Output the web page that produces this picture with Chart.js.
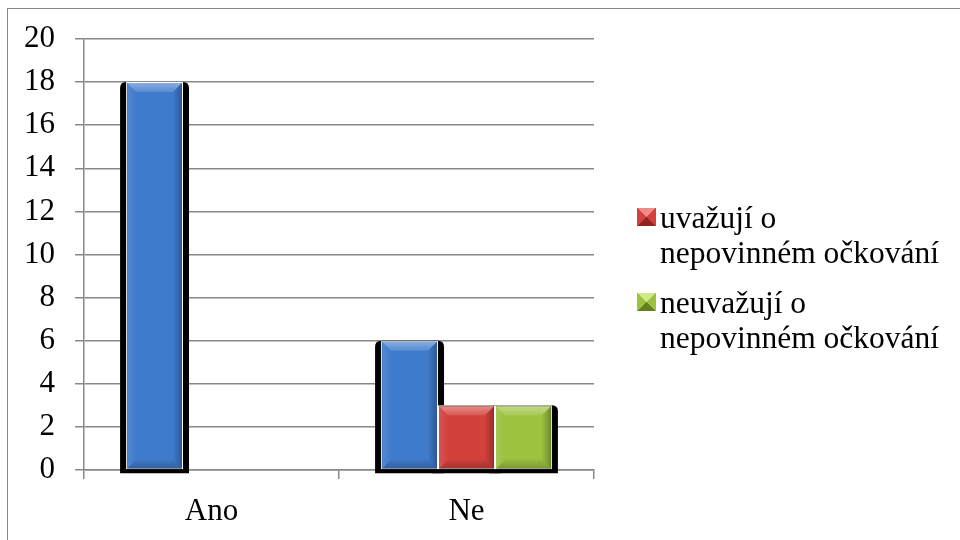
<!DOCTYPE html>
<html>
<head>
<meta charset="utf-8">
<script src="https://cdn.jsdelivr.net/npm/chart.js@4/dist/chart.umd.min.js"></script>
<style>
  html, body { margin: 0; padding: 0; background: #fff; }
  #wrap { position: relative; width: 960px; height: 540px; overflow: hidden; }
  #frame { position: absolute; left: 7px; top: 8px; width: 1000px; height: 600px;
           border-left: 1.5px solid #888; border-top: 1.5px solid #888; box-sizing: border-box; }
  canvas { position: absolute; left: 0; top: 0; }
  .legend-item { position: absolute; left: 660px; font-family: "Liberation Serif", "Times New Roman", serif;
                 font-size: 31.5px; line-height: 35px; color: #000; white-space: nowrap; }
  .swatch { position: absolute; width: 19px; height: 18px; left: 637px; box-sizing: border-box; }
</style>
</head>
<body>
<div id="wrap">
  <div id="frame"></div>
  <canvas id="chart" width="960" height="540"></canvas>
  <div id="legend"></div>
</div>
<script>
// Answers grouped by "Ano" / "Ne"
const categories = ['Ano', 'Ne'];
const seriesNames = ['', 'uvažují o nepovinném očkování', 'neuvažují o nepovinném očkování'];
const legendLines = [[], ['uvažují o', 'nepovinném očkování'], ['neuvažují o', 'nepovinném očkování']];
const totalValues = [18, 6];
const consideringValues = [0, 3];
const notConsideringValues = [0, 3];
const yTicks = [0, 2, 4, 6, 8, 10, 12, 14, 16, 18, 20];

const faceColors = ['#3f7bcc', '#d3413c', '#9cc240'];
const lightColors = ['#7fb0ee', '#ef8a86', '#cfe98a'];
const darkColors = ['#24528f', '#8e2522', '#62801f'];

const serif = '"Liberation Serif", "Times New Roman", serif';

function roundRect(ctx, x, y, w, h, r) {
  ctx.beginPath();
  ctx.moveTo(x + r, y);
  ctx.lineTo(x + w - r, y);
  ctx.quadraticCurveTo(x + w, y, x + w, y + r);
  ctx.lineTo(x + w, y + h);
  ctx.lineTo(x, y + h);
  ctx.lineTo(x, y + r);
  ctx.quadraticCurveTo(x, y, x + r, y);
  ctx.closePath();
}

function poly(ctx, pts, fill) {
  ctx.beginPath();
  ctx.moveTo(pts[0][0], pts[0][1]);
  for (let i = 1; i < pts.length; i++) ctx.lineTo(pts[i][0], pts[i][1]);
  ctx.closePath();
  ctx.fillStyle = fill;
  ctx.fill();
}

function eachBar(chart, fn) {
  chart.data.datasets.forEach((ds, i) => {
    const meta = chart.getDatasetMeta(i);
    meta.data.forEach((bar, j) => {
      if (!ds.data[j]) return;
      fn(bar.getProps(['x', 'y', 'base', 'width'], true));
    });
  });
}

// Dark drop shape behind every bar, then a soft bevel over each face
const bevelBars = {
  id: 'bevelBars',
  beforeDatasetsDraw(chart) {
    const ctx = chart.ctx;
    ctx.save();
    ctx.fillStyle = '#000';
    eachBar(chart, ({x, y, base, width}) => {
      const l = x - width / 2 - 6, r = x + width / 2 + 6;
      roundRect(ctx, l, y, r - l, base + 4 - y, 6);
      ctx.fill();
    });
    ctx.restore();
  },
  afterDatasetsDraw(chart) {
    const ctx = chart.ctx;
    ctx.save();
    eachBar(chart, ({x, y, base, width}) => {
      const l = x - width / 2 + 1, r = x + width / 2 - 1;
      const t = y + 1, b = base - 0.5, d = 9;
      let g = ctx.createLinearGradient(0, t, 0, t + d);
      g.addColorStop(0, 'rgba(255,255,255,0.38)');
      g.addColorStop(1, 'rgba(255,255,255,0.12)');
      poly(ctx, [[l, t], [r, t], [r - d, t + d], [l + d, t + d]], g);
      g = ctx.createLinearGradient(l, 0, l + d, 0);
      g.addColorStop(0, 'rgba(255,255,255,0.10)');
      g.addColorStop(1, 'rgba(255,255,255,0)');
      poly(ctx, [[l, t], [l + d, t + d], [l + d, b - d], [l, b]], g);
      g = ctx.createLinearGradient(r, 0, r - d, 0);
      g.addColorStop(0, 'rgba(0,0,0,0.28)');
      g.addColorStop(1, 'rgba(0,0,0,0.02)');
      poly(ctx, [[r, t], [r - d, t + d], [r - d, b - d], [r, b]], g);
      g = ctx.createLinearGradient(0, b, 0, b - d);
      g.addColorStop(0, 'rgba(0,0,0,0.22)');
      g.addColorStop(1, 'rgba(0,0,0,0.03)');
      poly(ctx, [[l, b], [r, b], [r - d, b - d], [l + d, b - d]], g);
    });
    ctx.restore();
  }
};

const seriesValues = [totalValues, consideringValues, notConsideringValues];

new Chart(document.getElementById('chart'), {
  type: 'bar',
  data: {
    labels: categories,
    datasets: seriesValues.map((vals, i) => ({
      label: seriesNames[i],
      data: vals,
      backgroundColor: faceColors[i],
      borderColor: '#ffffff',
      borderWidth: 1,
      borderSkipped: false,
      categoryPercentage: 0.67,
      barPercentage: 1.0
    }))
  },
  options: {
    responsive: false,
    animation: false,
    layout: { padding: { top: 39, right: 366, left: 0, bottom: 0 } },
    plugins: { legend: { display: false }, tooltip: { enabled: false } },
    scales: {
      x: {
        offset: true,
        grid: { drawOnChartArea: false, drawTicks: true, tickLength: 9, color: '#888', lineWidth: 1.5 },
        border: { color: '#888', width: 1.5 },
        ticks: { color: '#000', padding: 14, font: { family: serif, size: 31 } },
        afterFit(scale) { scale.height = 70; }
      },
      y: {
        min: 0,
        max: 20,
        afterBuildTicks(scale) { scale.ticks = yTicks.map(v => ({ value: v })); },
        grid: { color: '#888', lineWidth: 1.5, tickLength: 9 },
        border: { color: '#888', width: 1.5 },
        ticks: { color: '#000', padding: 20, font: { family: serif, size: 31 } },
        afterFit(scale) { scale.width = 84; }
      }
    }
  },
  plugins: [bevelBars]
});

// Legend for the two named series, with pyramid-shaded swatches
const legend = document.getElementById('legend');
const legendTops = { 1: 200, 2: 285 };
[1, 2].forEach(i => {
  const sw = document.createElement('div');
  sw.className = 'swatch';
  sw.style.top = (legendTops[i] + 8) + 'px';
  sw.style.background = 'conic-gradient(from -45deg, ' +
    lightColors[i] + ' 0deg 90deg, ' + faceColors[i] + ' 90deg 180deg, ' +
    darkColors[i] + ' 180deg 270deg, ' + faceColors[i] + ' 270deg 360deg)';
  legend.appendChild(sw);
  const item = document.createElement('div');
  item.className = 'legend-item';
  item.style.top = legendTops[i] + 'px';
  item.innerHTML = legendLines[i].join('<br>');
  legend.appendChild(item);
});
</script>
</body>
</html>
